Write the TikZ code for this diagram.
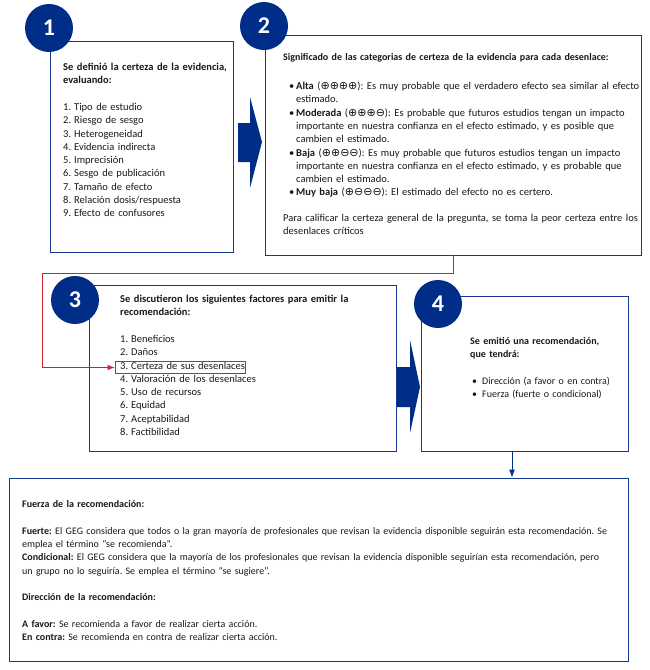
\documentclass[tikz,border=0pt]{standalone}
\usepackage{fontspec}
\usepackage{graphicx}
\setmainfont{Carlito}
\newfontfamily\symf{DejaVu Sans}
\usetikzlibrary{arrows.meta}
\definecolor{navy}{RGB}{0,45,135}
\definecolor{boxc}{RGB}{20,55,145}
\definecolor{redl}{RGB}{205,35,45}
\newcommand{\pl}{{\symf\fontsize{11}{11}\selectfont ⊕}}
\newcommand{\mi}{{\symf\fontsize{11}{11}\selectfont ⊖}}
\newcommand{\bul}{\makebox[7pt][l]{•}}
\newcommand{\hng}{\hspace*{7pt}}
\newcommand{\nm}[1]{\makebox[11pt][l]{#1}}
\tikzset{
  box/.style={draw=boxc, line width=0.9pt, inner sep=0pt, fill=white},
  num/.style={circle, fill=navy, minimum size=48pt, inner sep=0pt, text=white,
    font=\bfseries\fontsize{24}{24}\selectfont},
  txt/.style={anchor=north west, inner sep=0pt, align=left, text=black!90,
    font=\fontsize{10.5}{13.3}\selectfont\frenchspacing},
  txts/.style={txt, font=\fontsize{10}{13.3}\selectfont\frenchspacing},
  chev/.style={fill=navy, draw=none}
}
\begin{document}
\begin{tikzpicture}[x=1pt,y=-1pt]
\fill[white] (0,0) rectangle (650,670);
\useasboundingbox (0,0) rectangle (650,670);

% boxes
\node[box, minimum width=183pt, minimum height=211pt] (b1) at (141.5,146.5) {};
\node[box, minimum width=376pt, minimum height=220pt] (b2) at (453,145) {};
\node[box, minimum width=307pt, minimum height=166pt] (b3) at (242.5,368) {};
\node[box, minimum width=207pt, minimum height=155pt] (b4) at (524.5,373.5) {};
\node[box, minimum width=619pt, minimum height=183pt] (b5) at (318.5,569.5) {};

% chevrons
\fill[chev] (238,123) -- (250,123) -- (250,97) -- (262,142) -- (250,188) -- (250,162) -- (238,162) -- cycle;
\fill[chev] (397,367) -- (410,367) -- (410,340) -- (420,387) -- (410,433) -- (410,407) -- (397,407) -- cycle;

% circles
\node[num] (c1) at (49,28) {1};
\node[num] (c2) at (264,26) {2};
\node[num] (c3) at (75,300) {3};
\node[num] (c4) at (438,304) {4};

% text box 1
\node[txt, text width=175pt] (t1) at (63,61) {\strut\textbf{Se definió la certeza de la evidencia,}\\
\textbf{evaluando:}\\ \mbox{}\\
\nm{1.}Tipo de estudio\\
\nm{2.}Riesgo de sesgo\\
\nm{3.}Heterogeneidad\\
\nm{4.}Evidencia indirecta\\
\nm{5.}Imprecisión\\
\nm{6.}Sesgo de publicación\\
\nm{7.}Tamaño de efecto\\
\nm{8.}Relación dosis/respuesta\\
\nm{9.}Efecto de confusores};

% text box 2
\node[txts, text width=360pt] (t2h) at (283,51) {\strut\textbf{Significado de las categorias de certeza de la evidencia para cada desenlace:}};
\node[txt, text width=360pt] (t2b) at (289,80) {\strut\bul\textbf{Alta} (\pl\pl\pl\pl): Es muy probable que el verdadero efecto sea similar al efecto\\
\hng estimado.\\
\bul\textbf{Moderada} (\pl\pl\pl\mi): Es probable que futuros estudios tengan un impacto\\
\hng importante en nuestra confianza en el efecto estimado, y es posible que\\
\hng cambien el estimado.\\
\bul\textbf{Baja} (\pl\pl\mi\mi): Es muy probable que futuros estudios tengan un impacto\\
\hng importante en nuestra confianza en el efecto estimado, y es probable que\\
\hng cambien el estimado.\\
\bul\textbf{Muy baja} (\pl\mi\mi\mi): El estimado del efecto no es certero.};
\node[txt, text width=360pt] (t2p) at (283,212) {\strut Para calificar la certeza general de la pregunta, se toma la peor certeza entre los\\
desenlaces críticos};

% text box 3
\node[txt, text width=275pt] (t3) at (120,293) {\strut\textbf{Se discutieron los siguientes factores para emitir la}\\
\textbf{recomendación:}\\ \mbox{}\\
\nm{1.}Beneficios\\
\nm{2.}Daños\\
\nm{3.}Certeza de sus desenlaces\\
\nm{4.}Valoración de los desenlaces\\
\nm{5.}Uso de recursos\\
\nm{6.}Equidad\\
\nm{7.}Aceptabilidad\\
\nm{8.}Factibilidad};

% text box 4
\node[txts, text width=155pt] (t4) at (470,335) {\strut\textbf{Se emitió una recomendación,}\\
\textbf{que tendrá:}\\ \mbox{}\\
\hspace*{2pt}\makebox[10pt][l]{•}Dirección (a favor o en contra)\\
\hspace*{2pt}\makebox[10pt][l]{•}Fuerza (fuerte o condicional)};

% bottom text
\node[txts, text width=640pt] (t5) at (22,498) {\strut\textbf{Fuerza de la recomendación:}\\ \mbox{}\\
\textbf{Fuerte:} El GEG considera que todos o la gran mayoría de profesionales que revisan la evidencia disponible seguirán esta recomendación. Se\\
emplea el término “se recomienda”.\\
\textbf{Condicional:} El GEG considera que la mayoría de los profesionales que revisan la evidencia disponible seguirían esta recomendación, pero\\
un grupo no lo seguiría. Se emplea el término “se sugiere”.\\ \mbox{}\\
\textbf{Dirección de la recomendación:}\\ \mbox{}\\
\textbf{A favor:} Se recomienda a favor de realizar cierta acción.\\
\textbf{En contra:} Se recomienda en contra de realizar cierta acción.};

% red highlight and connector
\node[draw=redl, line width=0.8pt, minimum width=130pt, minimum height=12.5pt, inner sep=0pt] (cz) at (180,367.5) {};
\coordinate (rc) at (42,0);
\draw[redl, line width=0.8pt, -{Latex[length=7pt,width=5.5pt]}]
  (b2.south) -- ++(0,18) -| (rc |- cz.west) -- (cz.west);

% blue connector
\coordinate (ax) at (512,0);
\draw[navy, line width=0.9pt, -{Latex[length=8pt,width=6pt]}] (b4.south -| ax) -- (b5.north -| ax);
\end{tikzpicture}
\end{document}
